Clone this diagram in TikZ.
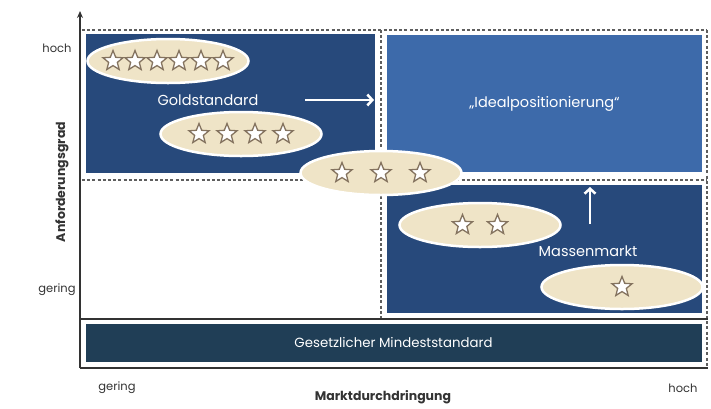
\documentclass[tikz,border=0pt]{standalone}
\usepackage{fontspec}
\setmainfont{Poppins}
\usetikzlibrary{shapes.geometric,arrows.meta}

\definecolor{quaddark}{HTML}{27497B}
\definecolor{quadlight}{HTML}{3D6AAA}
\definecolor{bardark}{HTML}{203E56}
\definecolor{creamfill}{HTML}{EFE4C7}
\definecolor{starline}{HTML}{84735F}
\definecolor{dotgray}{HTML}{5E5E5E}
\definecolor{axisgray}{HTML}{333333}

\begin{document}
\begin{tikzpicture}[x=1pt, y=-1pt, >=Stealth,
  quadrant/.style={rectangle, inner sep=0pt, draw=none, text=white,
    font=\fontsize{14.5}{16}\selectfont},
  cluster/.style={ellipse, fill=creamfill, draw=white, line width=2.5pt,
    minimum width=161pt, minimum height=44pt, inner sep=0pt},
  rating star/.style={star, star points=5, star point ratio=2.3, draw=starline,
    fill=white, line width=1.3pt, minimum size=21pt, inner sep=0pt},
  grid line/.style={draw=dotgray, line width=2.6pt, dash pattern=on 3pt off 2.2pt},
  white arrow/.style={draw=white, line width=2.5pt, -{Straight Barb[length=5pt, width=11pt]}},
  box label/.style={text=white, font=\fontsize{14.5}{16}\selectfont},
  axis tick/.style={text=axisgray, font=\fontsize{11.5}{13}\selectfont},
  axis title/.style={text=axisgray, font=\bfseries\fontsize{12.5}{14}\selectfont}]

\useasboundingbox (0,0) rectangle (711,408);

% grid
\coordinate (grid-top-left) at (82,30);
\coordinate (grid-top-right) at (707,30);
\coordinate (grid-mid-left) at (82,180);
\coordinate (grid-mid-right) at (707,180);
\coordinate (grid-split-top) at (381,30);
\coordinate (grid-split-bottom) at (381,318);
\coordinate (grid-bottom-right) at (707,368);

\draw[grid line] (grid-top-left) -- (grid-top-right);
\draw[grid line] (grid-mid-left) -- (grid-mid-right);
\draw[grid line] (grid-split-top) -- (grid-split-bottom);
\draw[grid line] (grid-top-right) -- (grid-bottom-right);

% quadrants
\node[quadrant, fill=quaddark, minimum width=289pt, minimum height=139pt] (gold-box) at (230.5,103.5) {};
\node[quadrant, fill=quadlight, minimum width=315pt, minimum height=137pt] (ideal-box) at (544.5,103.5) {„Idealpositionierung“};
\node[quadrant, fill=quaddark, minimum width=315pt, minimum height=128pt] (mass-box) at (544.5,249) {};
\node[quadrant, fill=bardark, draw=white, line width=1pt, minimum width=617pt, minimum height=39pt,
  font=\fontsize{13.3}{15}\selectfont] (law-bar) at (393.5,342.5) {Gesetzlicher Mindeststandard};

% axes
\coordinate (origin) at (80,368);
\coordinate (y-end) at (80,11);
\coordinate (x-end) at (708,368);
\coordinate (floor-left) at (80,319);
\coordinate (floor-right) at (708,319);

\draw[axisgray, line width=1.6pt, -{Stealth[length=7pt, width=6pt]}] (origin) -- (y-end);
\draw[axisgray, line width=1.6pt] (origin) -- (x-end);
\draw[axisgray, line width=1.6pt] (floor-left) -- (floor-right);

% rating clusters
\foreach \stars/\cx/\cy/\pitch [count=\k] in {6/168/61/22, 4/241/134/28, 3/381/173/39, 2/480/225/35, 1/622/287/0}
{
  \node[cluster] (cluster-\k) at (\cx,\cy) {};
  \foreach \i in {1,...,\stars}
    \node[rating star] (star-\k-\i) at ({\cx + (\i - (\stars + 1)/2)*\pitch}, \cy) {};
}

\node[box label] (gold-label) at (208,100) {Goldstandard};
\node[box label] (mass-label) at (588,251) {Massenmarkt};

\coordinate (gold-arrow-tail) at (305,100);
\coordinate (gold-arrow-head) at (374,100);
\coordinate (mass-arrow-tail) at (590,224);
\coordinate (mass-arrow-head) at (590,187);

\draw[white arrow] (gold-arrow-tail) -- (gold-arrow-head);
\draw[white arrow] (mass-arrow-tail) -- (mass-arrow-head);

% axis labels
\node[axis tick] (y-high) at (57,48) {hoch};
\node[axis tick] (y-low) at (57,290) {gering};
\node[axis tick] (x-low) at (117,388) {gering};
\node[axis tick] (x-high) at (683,388) {hoch};
\node[axis title, rotate=90] (y-title) at (62,182) {Anforderungsgrad};
\node[axis title] (x-title) at (383,397) {Marktdurchdringung};

\end{tikzpicture}
\end{document}
